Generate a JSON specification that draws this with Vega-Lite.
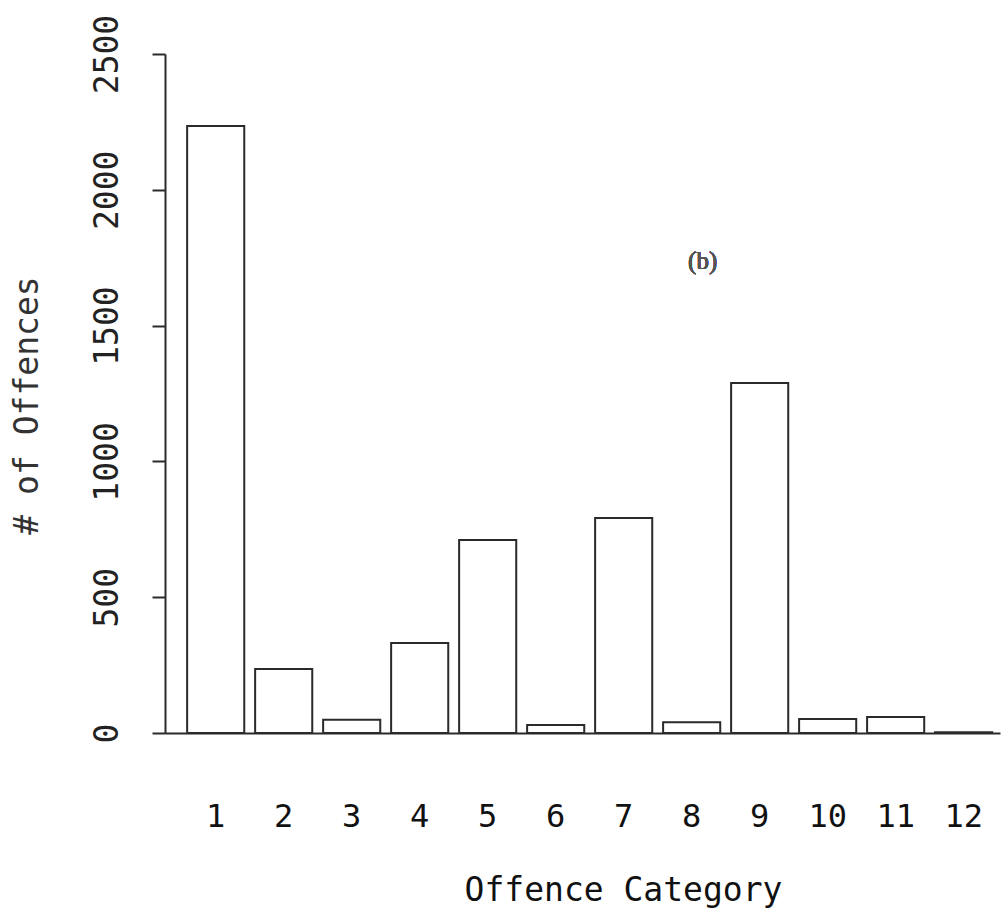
{
  "$schema": "https://vega.github.io/schema/vega-lite/v6.json",
  "width": 835,
  "height": 679,
  "autosize": {"type": "none"},
  "padding": {"left": 165, "top": 54, "right": 8, "bottom": 178},
  "background": "white",
  "config": {"view": {"stroke": null}},
  "data": {
    "values": [
      {"category": "1", "offences": 2235},
      {"category": "2", "offences": 236},
      {"category": "3", "offences": 49},
      {"category": "4", "offences": 331},
      {"category": "5", "offences": 711},
      {"category": "6", "offences": 29},
      {"category": "7", "offences": 792},
      {"category": "8", "offences": 40},
      {"category": "9", "offences": 1289},
      {"category": "10", "offences": 52},
      {"category": "11", "offences": 59},
      {"category": "12", "offences": 3}
    ]
  },
  "layer": [
    {
      "mark": {"type": "bar", "fill": "white", "stroke": "#2a2a2a", "strokeWidth": 2},
      "encoding": {
        "x": {
          "field": "category",
          "type": "nominal",
          "sort": ["1","2","3","4","5","6","7","8","9","10","11","12"],
          "scale": {"paddingInner": 0.16, "paddingOuter": 0.22, "align": 0.74},
          "axis": {
            "labelAngle": 0,
            "ticks": false,
            "tickSize": 0,
            "labelPadding": 93,
            "labelBaseline": "alphabetic",
            "labelFont": "DejaVu Sans Mono",
            "labelFontSize": 32,
            "labelColor": "#111",
            "domainColor": "#2a2a2a",
            "domainWidth": 2,
            "title": "Offence Category",
            "titleFont": "DejaVu Sans Mono",
            "titleFontSize": 33,
            "titleFontWeight": "normal",
            "titleColor": "#111",
            "titleX": 458,
            "titleY": 167,
            "titleAlign": "center",
            "titleBaseline": "alphabetic"
          }
        },
        "y": {
          "field": "offences",
          "type": "quantitative",
          "scale": {"domain": [0, 2500], "nice": false},
          "axis": {
            "values": [0, 500, 1000, 1500, 2000, 2500],
            "format": "d",
            "grid": false,
            "tickSize": 13,
            "tickWidth": 2,
            "tickColor": "#2a2a2a",
            "domainColor": "#2a2a2a",
            "domainWidth": 2,
            "labelAngle": -90,
            "labelAlign": "center",
            "labelBaseline": "alphabetic",
            "labelPadding": 35,
            "labelFont": "DejaVu Sans Mono",
            "labelFontSize": 33,
            "labelColor": "#222",
            "title": "# of Offences",
            "titleFont": "DejaVu Sans Mono",
            "titleFontSize": 33,
            "titleFontWeight": "normal",
            "titleColor": "#333",
            "titleAngle": -90,
            "titleX": -128,
            "titleY": 351,
            "titleAlign": "center",
            "titleBaseline": "alphabetic"
          }
        }
      }
    },
    {
      "mark": {"type": "text", "text": "(b)", "font": "Liberation Serif", "fontSize": 25, "fontWeight": "normal", "color": "#555", "dx": 11, "align": "center", "baseline": "middle"},
      "encoding": {
        "x": {"datum": "8", "type": "nominal"},
        "y": {"datum": 1738, "type": "quantitative"}
      }
    }
  ]
}
